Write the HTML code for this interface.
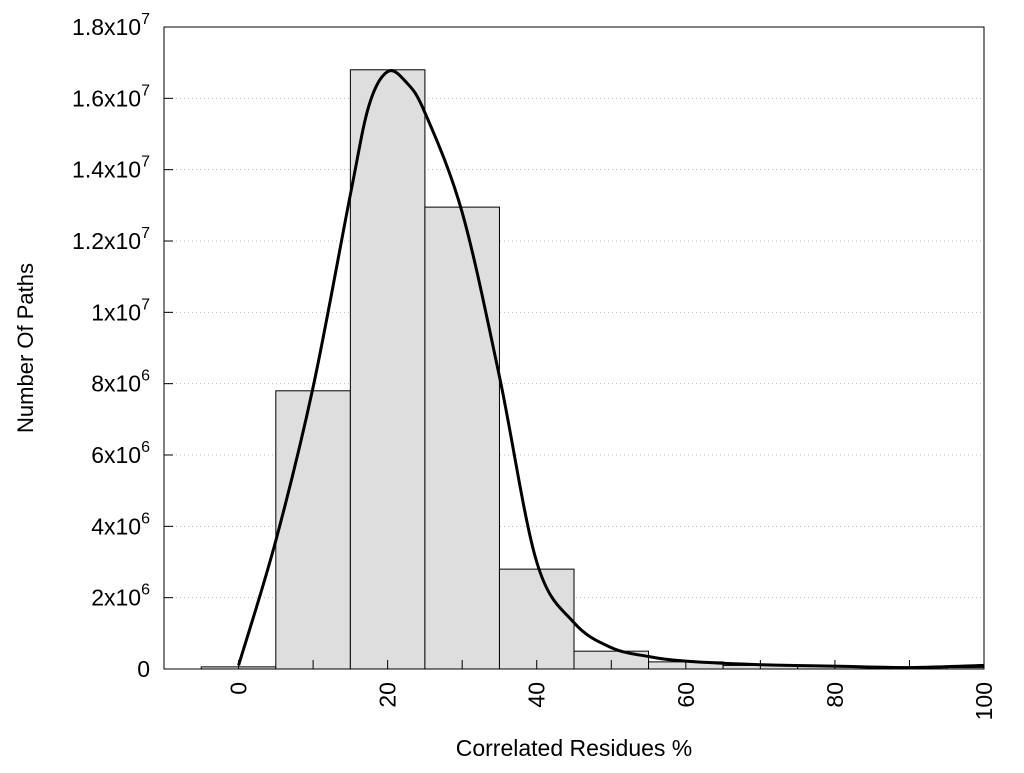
<!DOCTYPE html>
<html><head><meta charset="utf-8"><style>
body{margin:0;background:#fff;}
svg text{font-family:"Liberation Sans",Arial,sans-serif;fill:#000;}
</style></head><body>
<svg id="chart" width="1024" height="768" xmlns="http://www.w3.org/2000/svg">
<g id="grid"></g><g id="bars"></g><g id="curve"></g><g id="axes"></g>
</svg>
<script>
const binCenters=[0,10,20,30,40,50,60,70,80,90,100];
const binCounts=[0.06e6,7.8e6,16.8e6,12.95e6,2.8e6,0.5e6,0.2e6,0.1e6,0.07e6,0.05e6,0.04e6];
const curveX=[0,5,10,15,17.5,20,22.5,25,30,35,40,45,50,55,60,70,80,90,100];
const curveY=[0.1e6,3.6e6,7.9e6,13.3e6,15.8e6,16.75e6,16.45e6,15.6e6,12.8e6,8.2e6,3.0e6,1.3e6,0.6e6,0.35e6,0.22e6,0.12e6,0.08e6,0.04e6,0.1e6];
const yTicks=[0,2e6,4e6,6e6,8e6,10e6,12e6,14e6,16e6,18e6];
const yTickLabels=["0","2x10|6","4x10|6","6x10|6","8x10|6","1x10|7","1.2x10|7","1.4x10|7","1.6x10|7","1.8x10|7"];
const xTicks=[0,20,40,60,80,100];
const xMinor=[10,30,50,70,90];
const L=164,R=984,T=27,B=669,XMIN=-10,XMAX=100,YMAX=1.8e7;
const xs=v=>L+(v-XMIN)/(XMAX-XMIN)*(R-L);
const ys=v=>B-v/YMAX*(B-T);
const NS="http://www.w3.org/2000/svg";
function mk(tag,attrs,parent){const e=document.createElementNS(NS,tag);for(const k in attrs)e.setAttribute(k,attrs[k]);parent.appendChild(e);return e;}
const grid=document.getElementById('grid'),bars=document.getElementById('bars'),curve=document.getElementById('curve'),axes=document.getElementById('axes');
yTicks.forEach((t,i)=>{
  const y=ys(t);
  if(i>0&&i<yTicks.length-1){const g=mk('line',{x1:L,x2:R,y1:y,y2:y,stroke:'#bbb','stroke-dasharray':'1,3','stroke-width':1},grid);
  
  }
  const tk=mk('line',{x1:L,x2:L+9,y1:y,y2:y,stroke:'#000'},axes);
  
  
  const parts=yTickLabels[i].split('|');
  const tx=mk('text',{x:150,y:y+8,'font-size':23,'text-anchor':'end'},axes);
  
  
  tx.appendChild(document.createTextNode(parts[0]));
  if(parts[1]){const s=mk('tspan',{dy:-11,'font-size':16},tx);s.textContent=parts[1];}
});
const bw=xs(10)-xs(0);
binCenters.forEach((c,i)=>{
  const x0=Math.max(L,xs(c)-bw/2),x1=Math.min(R,xs(c)+bw/2);
  const r=mk('rect',{x:x0,y:ys(binCounts[i]),width:x1-x0,height:B-ys(binCounts[i]),fill:'#dedede',stroke:'#000','stroke-width':1},bars);
  
  
});
const P=curveX.map((x,i)=>[xs(x),ys(curveY[i])]);
let d='M'+P[0][0]+','+P[0][1];
for(let i=0;i<P.length-1;i++){
  const p0=P[i-1]||P[i],p1=P[i],p2=P[i+1],p3=P[i+2]||P[i+1];
  const c1=[p1[0]+(p2[0]-p0[0])/6,p1[1]+(p2[1]-p0[1])/6];
  const c2=[p2[0]-(p3[0]-p1[0])/6,p2[1]-(p3[1]-p1[1])/6];
  d+=' C'+c1[0]+','+c1[1]+' '+c2[0]+','+c2[1]+' '+p2[0]+','+p2[1];
}
const cp=mk('path',{d:d,fill:'none',stroke:'#000','stroke-width':3},curve);


const fr=mk('rect',{x:L,y:T,width:R-L,height:B-T,fill:'none',stroke:'#000','stroke-width':1},axes);


xTicks.concat(xMinor).forEach(t=>{
  const x=xs(t);
  const a=mk('line',{x1:x,x2:x,y1:B,y2:B-9,stroke:'#000'},axes);
  
  
});
xTicks.forEach(t=>{
  const x=xs(t)+8;
  const tx=mk('text',{x:x,y:682,'font-size':23,'text-anchor':'end',transform:'rotate(-90 '+x+' 682)'},axes);
  
  
  tx.textContent=t;
});
</script>
<svg style="position:absolute;left:0;top:0" width="1024" height="768">
<text x="574" y="756" font-size="23" text-anchor="middle" style="font-family:'Liberation Sans',sans-serif">Correlated Residues %</text>
<text x="33" y="348" font-size="22" text-anchor="middle" transform="rotate(-90 33 348)" style="font-family:'Liberation Sans',sans-serif">Number Of Paths</text>
</svg>
</body></html>
